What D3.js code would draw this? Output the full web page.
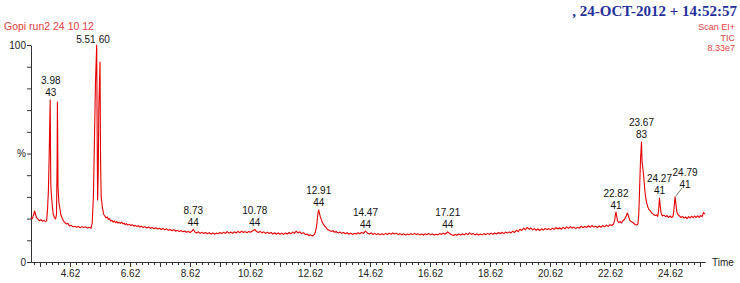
<!DOCTYPE html>
<html><head><meta charset="utf-8">
<script src="https://cdn.jsdelivr.net/npm/d3@7"></script>
<style>
body{margin:0;background:#fff}
svg{display:block}
text{font-family:"Liberation Sans",Arial,sans-serif}
</style>
</head><body>
<svg id="c" width="740" height="283"></svg>
<script>
// ---------- DATA ----------
const chartTitle = "Gopi run2 24 10 12";
const headerText = ", 24-OCT-2012 + 14:52:57";
const scanInfo = ["Scan EI+", "TIC", "8.33e7"];
const xAxisTitle = "Time";
const xLabelTicks = [4.62, 6.62, 8.62, 10.62, 12.62, 14.62, 16.62, 18.62, 20.62, 22.62, 24.62];
const yTickValues = [0, 10, 20, 30, 40, 50, 60, 70, 80, 90, 100];
const yTickLabels = {0: "0", 50: "%", 100: "100"};

// retention time (min), relative intensity (%)
const ticData = [
[3.32,20.5],[3.36,20.0],[3.40,21.5],[3.44,23.5],[3.47,22.0],[3.50,20.5],[3.55,19.8],[3.60,19.0],[3.65,19.5],[3.70,18.8],[3.75,19.2],[3.80,18.6],[3.84,19.0],
[3.87,24.0],[3.90,33.0],[3.92,45.0],[3.94,60.0],[3.96,74.7],[3.97,52.0],[3.98,36.0],[4.00,31.0],[4.03,26.0],[4.06,22.0],[4.10,20.5],[4.14,19.8],[4.17,22.0],
[4.19,45.0],[4.20,73.7],[4.21,58.0],[4.22,35.0],[4.25,27.2],[4.28,25.0],[4.31,22.0],[4.35,20.5],[4.40,19.0],[4.45,18.2],[4.50,17.5],[4.55,17.8],[4.60,16.6],
[4.66,16.9],[4.72,16.2],[4.78,16.5],[4.84,16.0],[4.90,16.4],[4.96,15.8],[5.02,16.3],[5.08,15.9],[5.14,16.2],[5.20,15.6],[5.26,16.0],[5.32,15.5],
[5.36,18.0],[5.40,30.0],[5.44,60.0],[5.47,82.9],[5.51,100.0],[5.525,60.0],[5.54,28.6],[5.56,40.0],[5.58,70.0],[5.62,92.2],[5.64,45.0],[5.66,30.0],
[5.70,25.3],[5.74,22.0],[5.78,21.2],[5.82,20.3],[5.86,20.8],[5.90,19.6],[5.94,19.9],[5.98,18.9],[6.02,19.2],[6.06,18.4],[6.10,18.9],[6.14,18.1],[6.18,18.6],
[6.22,17.9],[6.26,18.3],[6.30,17.8],[6.34,18.4],[6.38,17.6],[6.42,17.9],[6.46,17.2],[6.50,17.7],[6.55,17.0],[6.60,17.4],[6.65,16.8],[6.70,17.2],[6.75,16.5],
[6.80,16.9],[6.85,16.3],[6.90,16.8],[6.95,16.1],[7.00,16.5],[7.06,15.9],[7.12,16.3],[7.18,15.7],[7.24,16.1],[7.30,15.5],[7.36,15.9],[7.42,15.3],[7.48,15.8],
[7.54,15.2],[7.60,15.6],[7.66,15.0],[7.72,15.4],[7.78,14.8],[7.84,15.3],[7.90,14.6],[7.96,15.0],[8.02,14.4],[8.08,14.9],[8.14,14.2],[8.20,14.6],[8.26,14.0],
[8.32,14.5],[8.38,13.9],[8.44,14.3],[8.50,13.7],[8.56,14.1],[8.62,13.6],[8.68,14.2],[8.73,15.0],[8.78,13.8],[8.84,13.4],[8.90,13.9],[8.96,13.2],[9.02,13.7],
[9.08,13.1],[9.14,13.6],[9.20,13.0],[9.26,13.5],[9.32,12.9],[9.38,13.4],[9.44,12.8],[9.50,13.3],[9.56,13.0],[9.62,13.6],[9.68,13.1],[9.74,13.7],[9.80,13.2],
[9.86,14.0],[9.92,13.3],[9.98,13.8],[10.04,13.2],[10.10,13.9],[10.16,13.4],[10.22,14.1],[10.28,13.5],[10.34,14.2],[10.40,13.6],[10.46,14.0],[10.52,13.5],
[10.58,14.1],[10.64,13.7],[10.70,14.3],[10.78,15.0],[10.84,14.0],[10.90,13.6],[10.96,14.1],[11.02,13.4],[11.08,13.9],[11.14,13.2],[11.20,13.7],[11.26,13.1],
[11.32,13.6],[11.38,12.9],[11.44,13.5],[11.50,12.8],[11.56,13.4],[11.62,12.8],[11.68,13.3],[11.74,12.7],[11.80,13.4],[11.86,12.9],[11.92,13.6],[11.98,13.0],
[12.04,13.8],[12.10,13.2],[12.16,14.2],[12.22,13.4],[12.28,13.9],[12.34,13.1],[12.40,13.5],[12.46,12.7],[12.52,12.9],[12.58,12.2],[12.64,12.5],[12.70,12.0],
[12.76,12.6],[12.80,13.8],[12.84,16.5],[12.87,20.5],[12.89,23.0],[12.91,24.0],[12.93,22.8],[12.96,21.0],[13.00,19.4],[13.04,18.0],[13.08,17.2],[13.12,16.3],
[13.16,15.8],[13.20,15.0],[13.26,14.6],[13.32,14.1],[13.38,14.4],[13.44,13.7],[13.50,14.0],[13.56,13.4],[13.62,13.8],[13.68,13.2],[13.74,13.6],[13.80,13.0],
[13.86,13.5],[13.92,12.8],[13.98,13.3],[14.04,12.7],[14.10,13.2],[14.16,12.9],[14.22,13.5],[14.28,13.0],[14.34,13.6],[14.40,13.2],[14.47,14.2],[14.54,13.3],
[14.60,12.9],[14.66,13.4],[14.72,12.7],[14.78,13.2],[14.84,12.6],[14.90,13.1],[14.96,12.5],[15.02,13.0],[15.08,12.6],[15.14,13.2],[15.20,12.7],[15.26,13.3],
[15.32,12.8],[15.38,13.4],[15.44,12.9],[15.50,13.3],[15.56,12.6],[15.62,13.1],[15.68,12.5],[15.74,13.0],[15.80,12.4],[15.86,12.9],[15.92,12.5],[15.98,13.1],
[16.04,12.6],[16.10,13.2],[16.16,12.7],[16.22,13.0],[16.28,12.5],[16.34,12.9],[16.40,12.4],[16.46,13.0],[16.52,12.6],[16.58,13.1],[16.64,12.5],[16.70,12.9],
[16.76,12.4],[16.82,12.8],[16.88,12.5],[16.94,13.1],[17.00,12.7],[17.06,13.3],[17.12,12.8],[17.21,13.9],[17.28,13.0],[17.34,12.6],[17.40,12.2],[17.46,12.7],
[17.52,12.3],[17.58,12.9],[17.64,12.4],[17.70,13.0],[17.76,12.5],[17.82,13.2],[17.88,12.6],[17.94,13.4],[18.00,12.7],[18.06,13.1],[18.12,12.5],[18.18,13.0],
[18.24,12.4],[18.30,12.9],[18.36,12.5],[18.42,13.1],[18.48,12.6],[18.54,13.2],[18.60,12.7],[18.66,13.3],[18.72,12.8],[18.78,13.4],[18.84,12.9],[18.90,13.6],
[18.96,13.0],[19.02,13.7],[19.08,13.1],[19.14,13.8],[19.20,13.3],[19.26,13.9],[19.32,13.4],[19.38,14.2],[19.44,13.6],[19.50,14.6],[19.56,14.0],[19.62,15.1],
[19.68,14.5],[19.74,15.6],[19.80,14.8],[19.86,16.0],[19.92,15.1],[19.98,15.7],[20.04,14.8],[20.10,15.4],[20.16,14.6],[20.22,15.2],[20.28,14.5],[20.34,15.3],
[20.40,14.7],[20.46,15.5],[20.52,14.9],[20.58,15.4],[20.64,14.8],[20.70,15.6],[20.76,15.0],[20.82,15.9],[20.88,15.2],[20.94,15.8],[21.00,15.1],[21.06,16.0],
[21.12,15.3],[21.18,16.2],[21.24,15.5],[21.30,16.3],[21.36,15.6],[21.42,16.1],[21.48,15.4],[21.54,16.0],[21.60,15.6],[21.66,16.5],[21.72,15.8],[21.78,16.4],
[21.84,15.9],[21.90,16.7],[21.96,16.0],[22.02,16.8],[22.08,16.1],[22.14,16.5],[22.20,15.9],[22.26,16.6],[22.32,16.0],[22.38,16.9],[22.44,16.2],[22.50,17.0],
[22.56,16.4],[22.62,17.2],[22.68,16.8],[22.74,17.5],[22.78,19.5],[22.80,22.0],[22.82,23.0],[22.84,21.5],[22.87,19.0],[22.91,18.2],[22.96,18.6],[23.00,18.0],
[23.05,19.0],[23.10,19.6],[23.15,20.8],[23.20,22.6],[23.24,21.0],[23.28,19.2],[23.33,18.6],[23.38,18.2],[23.44,17.5],[23.50,17.0],[23.55,17.5],[23.58,22.0],
[23.61,35.0],[23.64,48.0],[23.67,55.3],[23.69,46.0],[23.71,43.8],[23.74,40.0],[23.77,35.0],[23.80,30.5],[23.84,27.5],[23.88,25.4],[23.92,24.2],[23.97,23.4],
[24.02,22.4],[24.07,22.0],[24.12,21.4],[24.17,21.7],[24.21,21.0],[24.24,23.5],[24.27,29.5],[24.30,25.0],[24.33,22.2],[24.37,21.2],[24.42,21.6],[24.47,20.9],
[24.52,21.4],[24.57,20.6],[24.62,21.2],[24.67,20.5],[24.72,21.0],[24.75,24.0],[24.79,30.0],[24.82,26.5],[24.85,23.0],[24.89,21.8],[24.94,21.2],[24.99,20.5],
[25.04,21.0],[25.09,20.2],[25.14,20.8],[25.19,20.0],[25.24,20.9],[25.29,20.3],[25.34,21.1],[25.39,20.4],[25.44,21.2],[25.49,20.5],[25.54,21.3],[25.59,20.6],
[25.64,21.4],[25.69,20.9],[25.74,22.8],[25.78,22.0]
];

const peakTimes  = [3.98, 5.51, 8.73, 10.78, 12.91, 14.47, 17.21, 22.82, 23.67, 24.27, 24.79];
const peakMasses = ["43", "60", "44", "44", "44", "44", "44", "41", "83", "41", "41"];

// ---------- LAYOUT ----------
const svg = d3.select("#c");
const x = d3.scaleLinear().domain([3.32, 25.787]).range([31, 705]);
const y = d3.scaleLinear().domain([0, 100]).range([262, 45]);
const axisColor = "#333";
const traceColor = "#e60000";
const redText = "#e8403f";

// header texts
svg.append("text").attr("x", 4).attr("y", 26).attr("dy", "0.35em")
  .style("font-size", "10.5px").attr("fill", redText).text(chartTitle);
svg.append("text").attr("x", 737).attr("y", 11).attr("dy", "0.35em")
  .attr("text-anchor", "end")
  .style("font-family", "'Liberation Serif','Times New Roman',serif")
  .style("font-weight", "bold").style("font-size", "15px").attr("fill", "#1f2f9c").text(headerText);
svg.selectAll("text.scan").data(scanInfo).join("text").attr("class", "scan")
  .attr("x", 735).attr("y", (d, i) => 27 + i * 10.5).attr("dy", "0.35em")
  .attr("text-anchor", "end").style("font-size", "9px").attr("fill", redText).text(d => d);

// x axis: minor ticks
const minorTicks = d3.range(3.42, 25.79, 0.2);
const gMinor = svg.append("g").attr("transform", `translate(0,${y(0)})`)
  .call(d3.axisBottom(x).tickValues(minorTicks).tickSize(3).tickSizeOuter(0).tickFormat(""));
const mediumTicks = d3.range(3.62, 25.79, 1);
const gMajor = svg.append("g").attr("transform", `translate(0,${y(0)})`)
  .call(d3.axisBottom(x).tickValues(mediumTicks).tickSize(5).tickSizeOuter(0).tickPadding(3)
    .tickFormat(d => xLabelTicks.some(v => Math.abs(v - d) < 1e-6) ? d.toFixed(2) : ""));
[gMinor, gMajor].forEach(g => {
  g.selectAll("path,line").attr("stroke", axisColor).attr("stroke-width", 1);
  g.selectAll("text").style("font-size", "10px").attr("fill", "#222");
});
svg.append("text").attr("x", 712).attr("y", y(0)).attr("dy", "0.35em")
  .style("font-size", "10px").attr("fill", "#222").text(xAxisTitle);

// y axis
const gy = svg.append("g").attr("transform", `translate(${x.range()[0]},0)`)
  .call(d3.axisLeft(y).tickValues(yTickValues).tickSize(4).tickSizeOuter(0).tickPadding(1)
    .tickFormat(d => yTickLabels[d] || ""));
gy.selectAll("path,line").attr("stroke", axisColor).attr("stroke-width", 1);
gy.selectAll("text").style("font-size", "10px").attr("fill", "#222");

// trace
const line = d3.line().x(d => x(d[0])).y(d => y(d[1]));
svg.append("path").datum(ticData).attr("d", line)
  .attr("fill", "none").attr("stroke", traceColor).attr("stroke-width", 1.1)
  .attr("stroke-linejoin", "round");

// peak labels
function apexOf(t) {
  const near = ticData.filter(d => Math.abs(d[0] - t) <= 0.031);
  return d3.max(near, d => d[1]);
}
const lbl = svg.append("g").style("font-size", "10px").attr("fill", "#111");
peakTimes.forEach((t, i) => {
  const px = x(t), py = y(apexOf(t));
  const m = peakMasses[i];
  if (t === 5.51) {
    lbl.append("text").attr("x", px - 1).attr("y", py - 6).attr("dy", "0.35em")
      .attr("text-anchor", "end").text(t.toFixed(2));
    lbl.append("text").attr("x", px + 2).attr("y", py - 6).attr("dy", "0.35em").text(m);
    return;
  }
  let lx = px, by = py - 7;
  if (t === 24.79) {
    lx = px + 10; by = py - 12;
    svg.append("line").attr("x1", px + 1).attr("y1", py - 1).attr("x2", px + 7).attr("y2", py - 9)
      .attr("stroke", "#555").attr("stroke-width", 0.8);
  }
  lbl.append("text").attr("x", lx).attr("y", by).attr("dy", "0.35em").attr("text-anchor", "middle").text(m);
  lbl.append("text").attr("x", lx).attr("y", by - 12).attr("dy", "0.35em").attr("text-anchor", "middle").text(t.toFixed(2));
});
</script>
</body></html>
